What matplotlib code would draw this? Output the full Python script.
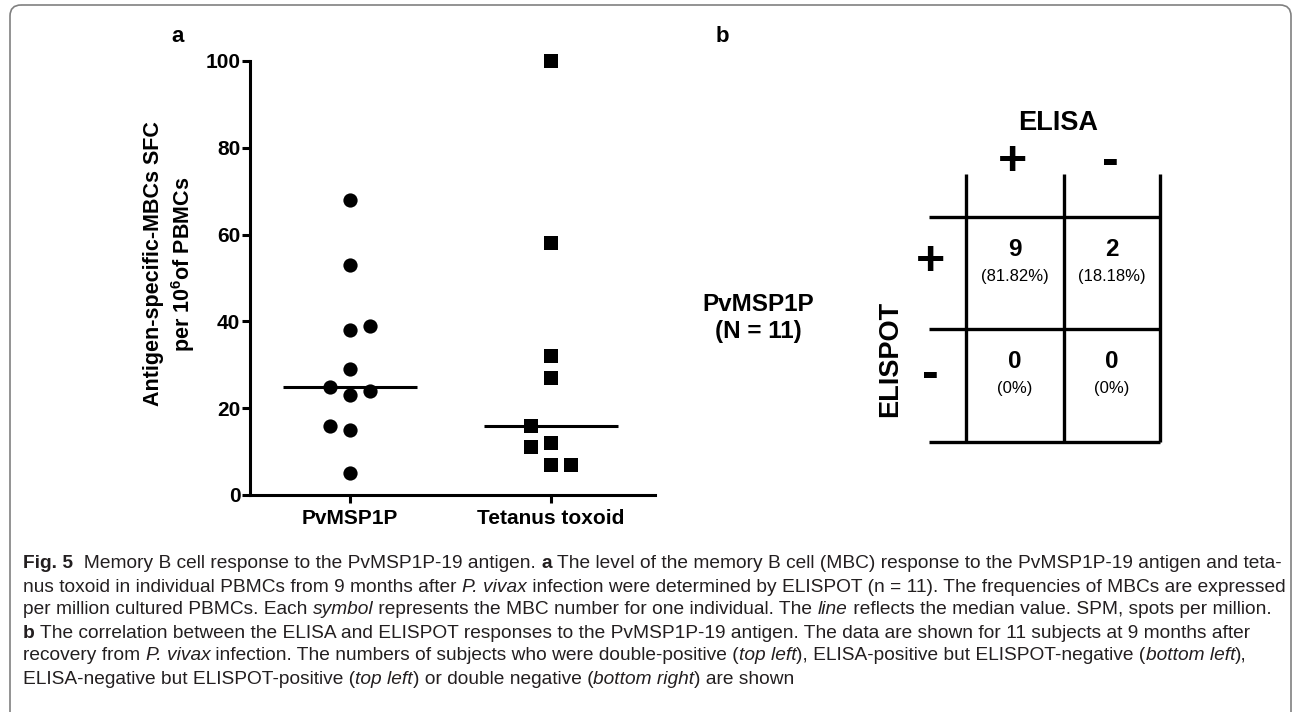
import re
import numpy as np
import matplotlib
matplotlib.use("Agg")
import matplotlib.pyplot as plt
from matplotlib import font_manager
from matplotlib.patches import FancyBboxPatch

# ---- data ----
groups = ["PvMSP1P", "Tetanus toxoid"]
pv_sfc = [68, 53, 38, 39, 29, 25, 23, 24, 16, 15, 5]
tt_sfc = [100, 58, 32, 27, 16, 12, 11, 7, 7]
# sideways scatter of the symbols, in column units
pv_shift = [0, 0, 0, 0.1, 0, -0.1, 0, 0.1, -0.1, 0, 0]
tt_shift = [0, 0, 0, 0, -0.1, 0, -0.1, 0, 0.1]

elisa_cols = ["+", "-"]
elispot_rows = ["+", "-"]
counts = [[9, 2], [0, 0]]
antigen = "PvMSP1P"

caption = [
    "**Fig. 5**  Memory B cell response to the PvMSP1P-19 antigen. **a** The level of the memory B cell (MBC) response to the PvMSP1P-19 antigen and teta-",
    "nus toxoid in individual PBMCs from 9 months after *P. vivax* infection were determined by ELISPOT (n = 11). The frequencies of MBCs are expressed",
    "per million cultured PBMCs. Each *symbol* represents the MBC number for one individual. The *line* reflects the median value. SPM, spots per million.",
    "**b** The correlation between the ELISA and ELISPOT responses to the PvMSP1P-19 antigen. The data are shown for 11 subjects at 9 months after",
    "recovery from *P. vivax* infection. The numbers of subjects who were double-positive (*top left*), ELISA-positive but ELISPOT-negative (*bottom left*),",
    "ELISA-negative but ELISPOT-positive (*top left*) or double negative (*bottom right*) are shown",
]

plt.rcParams['font.family'] = ['Liberation Sans', 'DejaVu Sans']
plt.rcParams['font.weight'] = 'bold'
plt.rcParams['mathtext.fontset'] = 'custom'
plt.rcParams['mathtext.rm'] = 'Liberation Sans:bold'
plt.rcParams['mathtext.bf'] = 'Liberation Sans:bold'

W, H = 1292, 712
fig = plt.figure(figsize=(W / 100, H / 100), dpi=100)

# full-figure overlay in pixel units (y down)
ax0 = fig.add_axes([0, 0, 1, 1])
ax0.set_xlim(0, W)
ax0.set_ylim(H, 0)
ax0.axis('off')

frame = FancyBboxPatch((10, 5), 1281, 720, boxstyle="round,pad=0,rounding_size=11",
                       fill=False, edgecolor='#808080', lw=1.2, clip_on=False)
ax0.add_patch(frame)

# ---- panel a ----
ax = fig.add_axes([250 / W, 1 - 495 / H, 405 / W, 434 / H])
xpos = np.arange(len(groups))
ax.scatter(xpos[0] + np.array(pv_shift), pv_sfc, s=105, marker='o', color='black',
           linewidths=0, clip_on=False, zorder=3)
ax.scatter(xpos[1] + np.array(tt_shift), tt_sfc, s=100, marker='s', color='black',
           linewidths=0, clip_on=False, zorder=3)
for i, vals in enumerate([pv_sfc, tt_sfc]):
    ax.hlines(np.median(vals), i - 0.333, i + 0.333, color='black', lw=2.2)

ax.set_xlim(-0.5, 1.52)
ax.set_ylim(0, 100)
ax.set_yticks(range(0, 101, 20))
ax.set_xticks(xpos, groups)
for s in ['top', 'right']:
    ax.spines[s].set_visible(False)
for s in ['left', 'bottom']:
    ax.spines[s].set_linewidth(2.2)
ax.tick_params(width=2.2, length=6, labelsize=15, pad=1)
ax.tick_params(axis='x', pad=4)
ax.patch.set_alpha(0)

fig.text(170 / W, 1 - 264 / H, "Antigen-specific-MBCs SFC\nper 10$^{6}$of PBMCs",
         rotation=90, ha='center', va='center', multialignment='center',
         fontsize=15.5, linespacing=1.2)

ax0.text(178, 37, "a", fontsize=16, ha='center', va='center')
ax0.text(722, 37, "b", fontsize=16, ha='center', va='center')

# ---- panel b ----
col_x = [966, 1064, 1160]
row_y = [217, 329, 442]
grid_top = 174
grid_left = 929
for x in col_x:
    ax0.plot([x, x], [grid_top, row_y[-1]], color='black', lw=2.4, solid_capstyle='butt')
for y in row_y:
    ax0.plot([grid_left, col_x[-1]], [y, y], color='black', lw=2.4, solid_capstyle='butt')

ax0.text(1058, 123, "ELISA", fontsize=19.5, ha='center', va='center')
ax0.text(890, 359, "ELISPOT", fontsize=19.5, ha='center', va='center', rotation=90)
ax0.text(758, 318, f"{antigen}\n(N = {np.sum(counts)})", fontsize=17.5, ha='center',
         va='center', multialignment='center', linespacing=1.25)

total = np.sum(counts)
for j, lab in enumerate(elisa_cols):
    cx = (col_x[j] + col_x[j + 1]) / 2
    ax0.text(cx - 2, 162, lab, fontsize=36, ha='center', va='center')
for i, lab in enumerate(elispot_rows):
    cy = (row_y[i] + row_y[i + 1]) / 2
    ax0.text(grid_left + 1, cy - 11, lab, fontsize=36, ha='center', va='center')
for i in range(len(elispot_rows)):
    cy = (row_y[i] + row_y[i + 1]) / 2
    for j in range(len(elisa_cols)):
        cx = (col_x[j] + col_x[j + 1]) / 2
        pct = f"{100 * counts[i][j] / total:.2f}".rstrip('0').rstrip('.')
        ax0.text(cx, cy - 24, str(counts[i][j]), fontsize=17.5, ha='center', va='center')
        ax0.text(cx, cy + 3, f"({pct}%)", fontsize=12, fontweight='normal',
                 ha='center', va='center')

# ---- caption ----
names = {f.name for f in font_manager.fontManager.ttflist}
cap_font = "Liberation Sans Narrow" if "Liberation Sans Narrow" in names else "Liberation Sans"
renderer = fig.canvas.get_renderer()


def pieces(line):
    out = []
    for part in re.split(r'(\*\*.+?\*\*|\*.+?\*)', line):
        if not part:
            continue
        if part.startswith('**'):
            out.append((part[2:-2], 'bold', 'normal'))
        elif part.startswith('*'):
            out.append((part[1:-1], 'normal', 'italic'))
        else:
            out.append((part, 'normal', 'normal'))
    return out


def width(txt, size, weight, style):
    a = ax0.text(0, 0, txt + "|", fontsize=size, family=cap_font, fontweight=weight, fontstyle=style)
    b = ax0.text(0, 0, "|", fontsize=size, family=cap_font, fontweight=weight, fontstyle=style)
    w = a.get_window_extent(renderer).width - b.get_window_extent(renderer).width
    a.remove()
    b.remove()
    return w


ref = sum(width(t, 10, wt, st) for t, wt, st in pieces(caption[0]))
cap_size = 10 * (1282 - 23) / ref

for k, line in enumerate(caption):
    x = 23
    y = 564 + 23 * k
    for t, wt, st in pieces(line):
        ax0.text(x, y, t, fontsize=cap_size, family=cap_font, fontweight=wt,
                 fontstyle=st, ha='left', va='center', color='#231f20')
        x += width(t, cap_size, wt, st)

fig.savefig("out.png", dpi=100)
